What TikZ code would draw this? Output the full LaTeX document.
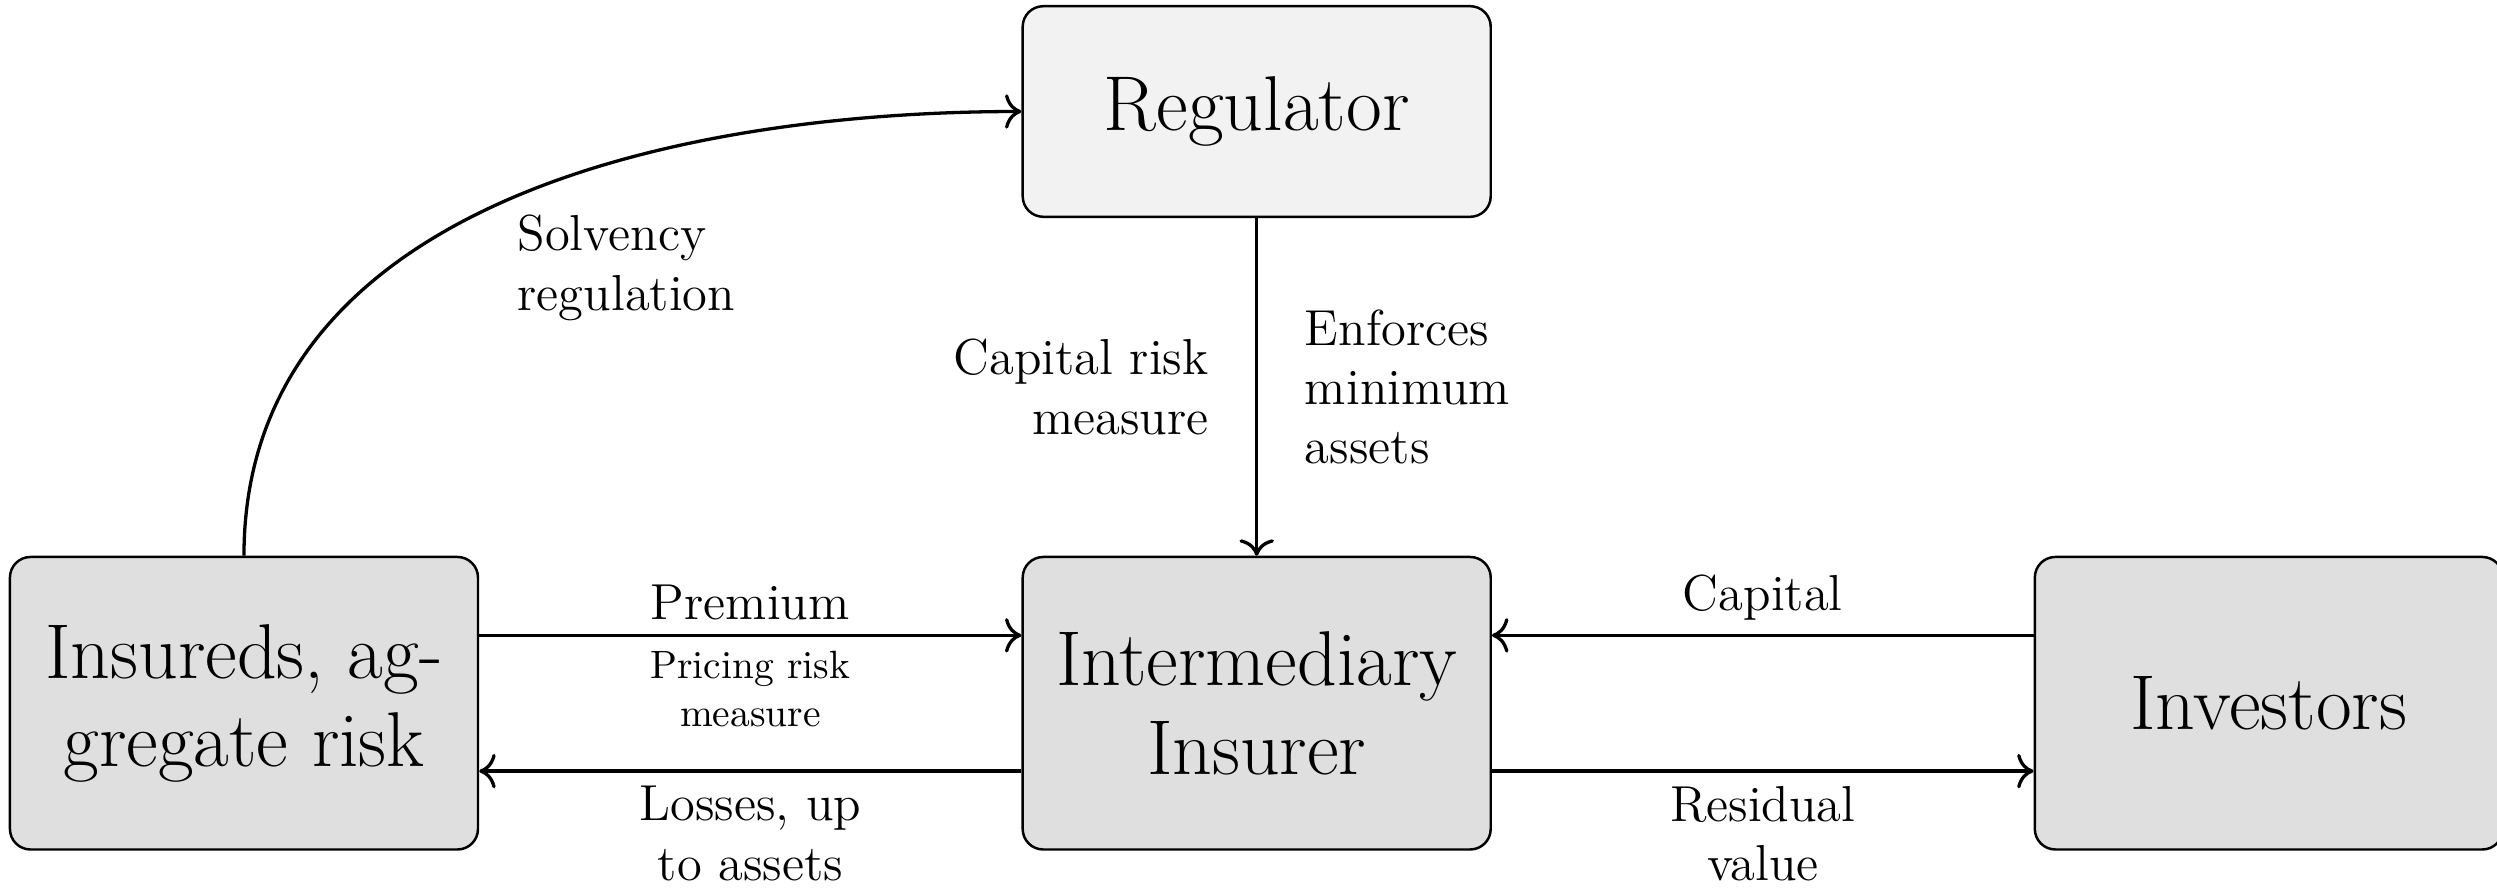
\documentclass[tikz,border=0pt]{standalone}
\usepackage{fontspec}
\usepackage{tikz}
\usetikzlibrary{positioning,arrows.meta}

\begin{document}
\begin{tikzpicture}[
    actor/.style={draw, semithick, rounded corners=5pt, fill=gray!25, minimum width=4cm, minimum height=2.5cm, font=\fontsize{18.9}{21.5}\selectfont, align=center},
    flow/.style={-{To[length=4pt]}, thick},
    lbl/.style={font=\fontsize{12.3}{14.4}\selectfont, align=center},
    smalllbl/.style={font=\fontsize{9.6}{11.8}\selectfont, align=center}
]
    \useasboundingbox (0,0) rectangle (21.34,-7.6);

    % Parties
    \node[actor] (insured) at (2.085,-6.01) {Insureds, ag-\\gregate risk};
    \node[actor] (insurer) at (10.74,-6.01) {Intermediary\\Insurer};
    \node[actor] (investors) at (19.39,-6.01) {Investors};
    \node[actor, fill=gray!10, minimum height=1.8cm] (regulator) at (10.74,-0.953) {Regulator};

    % Flows between insureds and insurer
    \draw[flow] ([yshift=0.58cm]insured.east) -- node[lbl, above] {Premium} node[smalllbl, below] {Pricing risk\\measure} ([yshift=0.58cm]insurer.west);
    \draw[flow] ([yshift=-0.58cm]insurer.west) -- node[lbl, below] {Losses, up\\to assets} ([yshift=-0.58cm]insured.east);

    % Flows between investors and insurer
    \draw[flow] ([yshift=0.58cm]investors.west) -- node[lbl, above] {Capital} ([yshift=0.58cm]insurer.east);
    \draw[flow] ([yshift=-0.58cm]insurer.east) -- node[lbl, below] {Residual\\value} ([yshift=-0.58cm]investors.west);

    % Regulation
    \draw[flow] (insured.north) to[out=90, in=180] (regulator.west);
    \node[lbl, align=left, anchor=west] (solvency) at (4.30,-2.29) {Solvency\\regulation};
    \draw[flow] (regulator.south) -- node[lbl, left=8pt, align=right] {Capital risk\\measure} node[lbl, right=8pt, align=left] {Enforces\\minimum\\assets} (insurer.north);
\end{tikzpicture}
\end{document}
